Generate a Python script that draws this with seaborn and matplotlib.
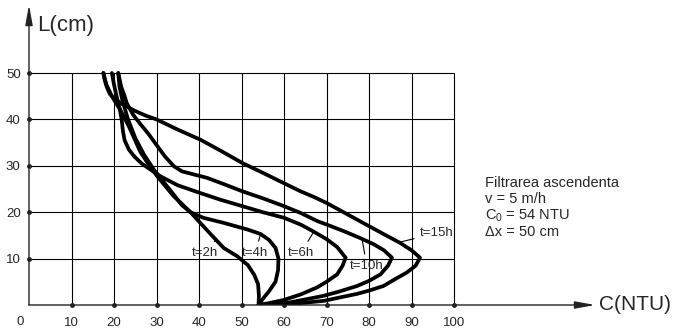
import matplotlib
matplotlib.use('Agg')
import matplotlib.pyplot as plt
import pandas as pd
import seaborn as sns

sns.set_style('white')
plt.rcParams['font.family'] = ['Liberation Sans', 'DejaVu Sans']
plt.rcParams['mathtext.default'] = 'regular'

# concentration C (NTU) against depth L (cm), top to bottom
c_2h = [17.5, 18.2, 19.5, 21.5, 23.5, 26.2, 28.0, 30.2, 34.0, 38.0, 42.0, 45.8,
        49.0, 51.5, 53.0, 53.9, 54.1, 54.0]
l_2h = [50, 47.5, 45, 42, 38.5, 33, 30.5, 27.7, 23.5, 20, 16, 12.3,
        10.5, 8.6, 6.5, 4.5, 2, 0]

c_4h = [21.0, 21.3, 22.0, 23.3, 25.0, 27.0, 29.5, 33.0, 36.0, 38.0, 41.0, 45.8,
        51.3, 54.5, 56.5, 58.0, 58.7, 58.6, 58.0, 56.5, 55.0, 54.0]
l_4h = [50, 47, 44, 40, 36, 32.5, 29, 25, 21.5, 20, 18.8, 17.7,
        16.3, 15.3, 14, 12.3, 10, 7.5, 5, 3, 1.3, 0]

c_6h = [19.5, 20.0, 20.6, 21.3, 21.8, 22.1, 22.5, 23.5, 24.8, 26.5, 28.4, 31.0,
        35.0, 40.4, 45.0, 50.2, 55.0, 60.0, 64.0, 67.0, 70.0, 72.5, 74.5, 73.8,
        72.5, 70.0, 67.8, 64.0, 60.0, 56.5, 54.0]
l_6h = [50, 47.5, 45, 42.5, 40, 37.5, 35.5, 33.5, 32, 30.5, 29.3, 27.7,
        25.8, 24.1, 22.7, 21.3, 20, 18.8, 17.3, 15.8, 14.2, 12.5, 10.2, 8.5,
        6.6, 5, 3.8, 2.3, 1.1, 0.4, 0]

c_10h = [21.0, 21.7, 22.5, 23.0, 24.5, 26.2, 28.0, 30.0, 32.0, 34.1, 36.0, 41.9,
         46.0, 50.2, 55.0, 60.0, 64.0, 67.8, 71.0, 74.1, 78.0, 81.1, 83.5, 85.4,
         84.5, 82.7, 80.0, 77.2, 73.0, 69.4, 65.0, 61.6, 58.0, 54.0]
l_10h = [50, 47, 45, 43.5, 41, 39, 37, 34.5, 32, 29.9, 28.8, 27.4,
         26, 24.5, 23, 21.3, 19.8, 18.1, 17, 15.9, 14.4, 13.1, 11.8, 10.2,
         8.5, 6.6, 5.2, 4.1, 2.9, 2, 1.2, 0.6, 0.2, 0]

c_15h = [17.5, 17.8, 18.3, 19.0, 20.2, 22.5, 25.0, 27.5, 30.0, 35.0, 40.4, 45.0,
         50.2, 55.0, 59.2, 63.9, 67.0, 70.0, 75.0, 80.0, 84.0, 87.3, 90.0, 92.0,
         91.0, 88.9, 86.0, 83.4, 80.0, 77.2, 73.0, 69.4, 65.0, 61.6, 58.0, 54.0]
l_15h = [50, 48.5, 47, 45.5, 44.3, 43, 41.8, 40.8, 40, 37.8, 35.6, 33.3,
         30.6, 28.5, 26.6, 24.5, 23.3, 22, 19.5, 17, 15, 13.4, 11.8, 10.2,
         8.5, 7, 5.5, 4.1, 3.1, 2.4, 1.6, 0.9, 0.5, 0.2, 0.05, 0]

curves = {'t=2h': (c_2h, l_2h), 't=4h': (c_4h, l_4h), 't=6h': (c_6h, l_6h),
          't=10h': (c_10h, l_10h), 't=15h': (c_15h, l_15h)}

# label text position, then the point on the curve the leader goes to
label_pos = {'t=2h': (41.4, 11.2), 't=4h': (53.2, 11.2), 't=6h': (64.0, 11.2),
             't=10h': (79.5, 8.4), 't=15h': (96.0, 15.5)}
leader_end = {'t=2h': (44.2, 14.3), 't=4h': (54.5, 15.3), 't=6h': (67.0, 15.8),
              't=10h': (78.3, 14.5), 't=15h': (87.5, 13.6)}

x_ticks = list(range(10, 101, 10))
y_ticks = list(range(10, 51, 10))
notes = ['Filtrarea ascendenta', 'v = 5 m/h', 'C$_0$ = 54 NTU', '\u0394x = 50 cm']

fig = plt.figure(figsize=(6.73, 3.29), dpi=100)
ax = fig.add_axes([29 / 673, 24 / 329, 566 / 673, 300 / 329])
ax.set_xlim(0, 566 / 4.25)
ax.set_ylim(0, 300 / 4.64)
for s in ax.spines.values():
    s.set_visible(False)

# grid only inside the 0-100 x 0-50 frame
ax.vlines(x_ticks, 0, 50, color='black', lw=0.8)
ax.hlines(y_ticks, 0, 100, color='black', lw=0.8)

# axes with arrow heads
arrow = dict(arrowstyle='-|>,head_length=1.2,head_width=0.22', color='#222222',
             lw=1.0, shrinkA=0, shrinkB=0)
ax.annotate('', xy=(1, 0), xytext=(0, 0), xycoords='axes fraction', arrowprops=arrow)
ax.annotate('', xy=(0, 1), xytext=(0, 0), xycoords='axes fraction', arrowprops=arrow)
ax.plot(x_ticks, [0] * len(x_ticks), 'o', ms=2.5, color='#222222', clip_on=False)
ax.plot([0] * len(y_ticks), y_ticks, 'o', ms=2.5, color='#222222', clip_on=False)

ax.set_xticks(x_ticks)
ax.set_yticks(y_ticks)
ax.tick_params(axis='x', length=0, pad=9, labelsize=9.5)
ax.tick_params(axis='y', length=0, pad=6, labelsize=9.5)
ax.annotate('0', xy=(0, 0), xytext=(-6.5, -12), textcoords='offset points',
            ha='center', va='center', fontsize=9.5)

ax.text(1.9, 60.3, 'L(cm)', fontsize=16, ha='left', va='center')
ax.annotate('C(NTU)', xy=(1, 0), xycoords='axes fraction', xytext=(3, 0),
            textcoords='offset points', ha='left', va='center', fontsize=15,
            annotation_clip=False)

for name, (c, l) in curves.items():
    sns.lineplot(x=c, y=l, sort=False, estimator=None, color='black', lw=2.7,
                 solid_joinstyle='round', solid_capstyle='round', ax=ax)
    ax.annotate(name, xy=leader_end[name], xytext=label_pos[name],
                ha='center', va='center', fontsize=9.5,
                arrowprops=dict(arrowstyle='-', color='black', lw=0.8,
                                shrinkA=2, shrinkB=0))

for i, line in enumerate(notes):
    ax.text(107.3, 26.3 - 3.55 * i, line, fontsize=10.5, ha='left', va='center')

ax.set_xlabel('')
ax.set_ylabel('')
fig.savefig('out.png', dpi=100)
